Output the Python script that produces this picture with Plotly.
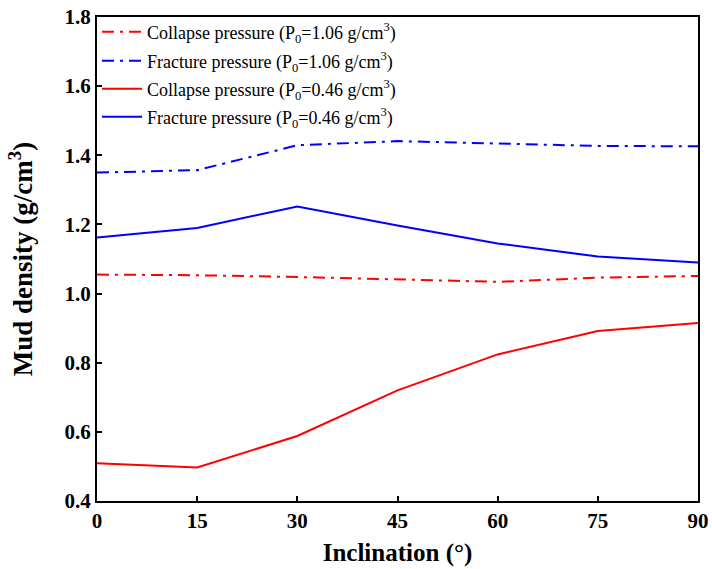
import plotly.graph_objects as go

inclination = [0, 15, 30, 45, 60, 75, 90]
collapse_106 = [1.055, 1.053, 1.048, 1.042, 1.034, 1.046, 1.051]
fracture_106 = [1.350, 1.357, 1.429, 1.441, 1.434, 1.427, 1.426]
collapse_046 = [0.509, 0.497, 0.588, 0.720, 0.824, 0.892, 0.915]
fracture_046 = [1.162, 1.190, 1.252, 1.197, 1.145, 1.107, 1.090]

names = [
    "Collapse pressure (P<sub>0</sub>=1.06 g/cm<sup>3</sup>)",
    "Fracture pressure (P<sub>0</sub>=1.06 g/cm<sup>3</sup>)",
    "Collapse pressure (P<sub>0</sub>=0.46 g/cm<sup>3</sup>)",
    "Fracture pressure (P<sub>0</sub>=0.46 g/cm<sup>3</sup>)",
]
series = [collapse_106, fracture_106, collapse_046, fracture_046]
colors = ["#ff0000", "#0000ff", "#ff0000", "#0000ff"]
dashes = ["12px,6px,3px,6px", "12px,6px,3px,6px", "solid", "solid"]
legend_ids = ["legend", "legend2", "legend3", "legend4"]

font = "Liberation Serif, Times New Roman, serif"

fig = go.Figure()
for n, s, c, d, lg in zip(names, series, colors, dashes, legend_ids):
    fig.add_trace(go.Scatter(x=inclination, y=s, mode="lines", name=n, legend=lg,
                             line=dict(color=c, width=2, dash=d)))

legend_style = dict(x=0.0, xanchor="left", yanchor="middle",
                    bgcolor="rgba(0,0,0,0)", borderwidth=0,
                    font=dict(family=font, size=18, color="black"), itemwidth=40)
row_px = [32, 61, 89, 117]
plot_top, plot_h = 17, 484
legends = {}
for lg, py in zip(legend_ids, row_px):
    legends[lg] = dict(y=1 - (py - plot_top) / plot_h, **legend_style)

axis_common = dict(showline=True, linecolor="black", linewidth=2, mirror=True,
                   ticks="inside", ticklen=5, tickwidth=2, tickcolor="black",
                   showgrid=False, zeroline=False, automargin=False,
                   tickfont=dict(family=font, size=21, color="black", weight="bold"))

fig.update_layout(
    width=712, height=569,
    margin=dict(l=97, r=14, t=17, b=68),
    plot_bgcolor="white", paper_bgcolor="white",
    font=dict(family=font, color="black"),
    showlegend=True,
    xaxis=dict(range=[0, 90], tickvals=[0, 15, 30, 45, 60, 75, 90],
               ticklabelstandoff=0,
               title=dict(text="Inclination (°)", font=dict(family=font, size=25, weight="bold"), standoff=11),
               **axis_common),
    yaxis=dict(range=[0.4, 1.8], tickvals=[0.4, 0.6, 0.8, 1.0, 1.2, 1.4, 1.6, 1.8],
               tickformat=".1f", ticklabelstandoff=0,
               title=dict(text="Mud density (g/cm<sup>3</sup>)", font=dict(family=font, size=27, weight="bold"), standoff=24),
               **axis_common),
    **legends,
)

fig.write_html("out.html", config={"displayModeBar": False},
               post_script="document.body.style.margin='0';")
